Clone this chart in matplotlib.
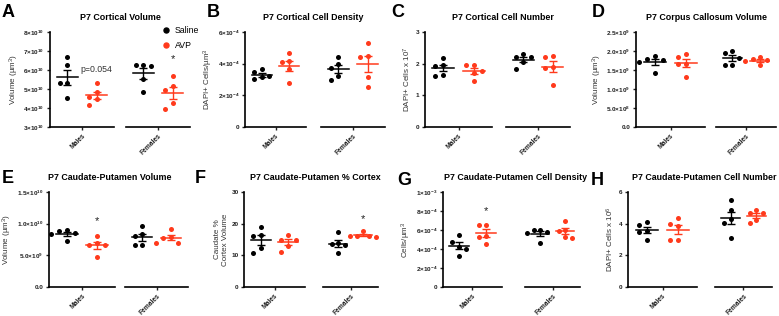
import numpy as np
import matplotlib
matplotlib.use('Agg')
import matplotlib.pyplot as plt
from matplotlib.lines import Line2D

plt.rcParams['font.family'] = ['Liberation Sans', 'DejaVu Sans']
plt.rcParams['mathtext.default'] = 'regular'

W, H = 779, 316
BLACK = '#000000'
RED = '#ff3a1c'

groups = ['Males', 'Females']
conditions = ['Saline', 'AVP']

# each panel: [males saline, males AVP, females saline, females AVP]
cortical_volume = [[6.7, 6.25, 5.3, 5.3, 4.5], [5.3, 4.85, 4.6, 4.45, 4.15],
                   [6.25, 6.25, 6.2, 5.55, 4.85], [5.7, 5.15, 4.95, 4.25, 3.95]]      # x10^10
cortical_density = [[3.65, 3.45, 3.25, 3.15, 3.0], [4.7, 4.15, 4.1, 3.65, 2.75],
                    [4.45, 4.0, 3.75, 3.2, 2.95], [5.3, 4.5, 4.45, 3.15, 2.55]]     # x10^-4
cortical_number = [[2.18, 1.95, 1.93, 1.65, 1.62], [1.96, 1.95, 1.78, 1.72, 1.45],
                   [2.32, 2.22, 2.2, 2.05, 1.83], [2.25, 2.22, 1.9, 1.86, 1.32]]    # x10^7
cc_volume = [[1.88, 1.8, 1.75, 1.7, 1.42], [1.92, 1.85, 1.66, 1.65, 1.32],
             [2.0, 1.96, 1.82, 1.63, 1.62], [1.84, 1.78, 1.75, 1.74, 1.62]]         # x10^9
cp_volume = [[9.0, 8.8, 8.5, 8.3, 7.2], [8.1, 6.9, 6.7, 6.6, 4.7],
             [9.6, 8.3, 8.0, 6.6, 6.6], [9.2, 7.9, 7.7, 7.0, 7.0]]                  # x10^9
cp_pct_cortex = [[18.8, 16.4, 16.0, 12.4, 10.7], [16.4, 15.0, 15.0, 13.0, 11.2],
                 [17.3, 13.8, 13.5, 13.3, 10.7], [17.6, 16.1, 16.0, 16.0, 15.8]]
cp_density = [[5.45, 4.75, 4.25, 4.05, 3.25], [6.55, 6.55, 5.4, 5.3, 4.55],
              [6.0, 6.0, 5.75, 5.7, 4.6], [6.95, 6.05, 5.9, 5.25, 5.2]]            # x10^-4
cp_number = [[4.1, 3.9, 3.55, 3.45, 2.95], [4.35, 3.95, 3.85, 3.0, 3.0],
             [5.5, 4.85, 4.3, 4.05, 3.1], [4.85, 4.7, 4.65, 4.25, 4.05]]           # x10^6

panels = [
    dict(letter='A', title='P7 Cortical Volume', data=cortical_volume,
         ylabel='Volume (µm$^3$)', ylim=(3, 8), ticks=[3, 4, 5, 6, 7, 8],
         ticklabels=['%d×10$^{10}$' % t for t in [3, 4, 5, 6, 7, 8]],
         box=(50, 114, 126, 190), row=0),
    dict(letter='B', title='P7 Cortical Cell Density', data=cortical_density,
         ylabel='DAPI+ Cells/µm$^3$', ylim=(0, 6), ticks=[0, 2, 4, 6],
         ticklabels=['0', '2×10$^{-4}$', '4×10$^{-4}$', '6×10$^{-4}$'],
         box=(245, 306, 321, 385), row=0),
    dict(letter='C', title='P7 Cortical Cell Number', data=cortical_number,
         ylabel='DAPI+ Cells x 10$^7$', ylim=(0, 3), ticks=[0, 1, 2, 3],
         ticklabels=['0', '1', '2', '3'],
         box=(425, 492, 506, 570), row=0),
    dict(letter='D', title='P7 Corpus Callosum Volume', data=cc_volume,
         ylabel='Volume (µm$^3$)', ylim=(0, 2.5), ticks=[0, 0.5, 1, 1.5, 2, 2.5],
         ticklabels=['0.0', '5.0×10$^8$', '1.0×10$^9$', '1.5×10$^9$', '2.0×10$^9$', '2.5×10$^9$'],
         box=(636, 705, 716, 776), row=0),
    dict(letter='E', title='P7 Caudate-Putamen Volume', data=cp_volume,
         ylabel='Volume (µm$^3$)', ylim=(0, 15), ticks=[0, 5, 10, 15],
         ticklabels=['0.0', '5.0×10$^9$', '1.0×10$^{10}$', '1.5×10$^{10}$'],
         box=(49, 115, 125, 188), row=1),
    dict(letter='F', title='P7 Caudate-Putamen % Cortex', data=cp_pct_cortex,
         ylabel='Caudate %\nCortex Volume', ylim=(0, 30), ticks=[0, 10, 20, 30],
         ticklabels=['0', '10', '20', '30'],
         box=(244, 305, 323, 378), row=1),
    dict(letter='G', title='P7 Caudate-Putamen Cell Density', data=cp_density,
         ylabel='Cells/µm$^3$', ylim=(0, 10), ticks=[0, 2, 4, 6, 8, 10],
         ticklabels=['0', '2×10$^{-4}$', '4×10$^{-4}$', '6×10$^{-4}$', '8×10$^{-4}$', '1×10$^{-3}$'],
         box=(443, 502, 525, 580), row=1),
    dict(letter='H', title='P7 Caudate-Putamen Cell Number', data=cp_number,
         ylabel='DAPI+ Cells x 10$^6$', ylim=(0, 6), ticks=[0, 2, 4, 6],
         ticklabels=['0', '2', '4', '6'],
         box=(628, 697, 715, 772), row=1),
]

rows = [(32, 127), (192, 287)]
title_pos = {'A': (120, 17), 'B': (313, 17), 'C': (503, 17), 'D': (707, 17),
             'E': (110, 177), 'F': (315, 177), 'G': (516, 177), 'H': (704, 177)}
letter_pos = {'A': (2, 4), 'B': (207, 4), 'C': (391, 4), 'D': (592, 4),
              'E': (2, 170), 'F': (195, 170), 'G': (397, 172), 'H': (591, 172)}

# annotations: (panel, segment, condition index, y, text)
notes = [('A', 0, 1, 6.0, 'p=0.054'), ('A', 1, 1, 6.55, '*'),
         ('E', 0, 1, 10.4, '*'), ('F', 1, 1, 21.5, '*'), ('G', 0, 1, 8.0, '*')]


def swarm(vals, thresh, step=0.26):
    # simple beeswarm offsets
    placed = []
    offs = []
    for v in vals:
        for cand in [0, -step, step, -2 * step, 2 * step]:
            if all(abs(cand - o) > 0.01 or abs(v - pv) > thresh for o, pv in placed):
                break
        placed.append((cand, v))
        offs.append(cand)
    return np.array(offs)


fig = plt.figure(figsize=(W / 100, H / 100), dpi=100)


def rect(x0, x1, top, bot):
    return [x0 / W, 1 - bot / H, (x1 - x0) / W, (bot - top) / H]


for p in panels:
    x0, x1, x2, x3 = p['box']
    top, bot = rows[p['row']]
    ax_l = fig.add_axes(rect(x0, x1, top, bot))
    ax_r = fig.add_axes(rect(x2, x3, top, bot))
    p['axes'] = (ax_l, ax_r)
    yr = p['ylim'][1] - p['ylim'][0]
    thresh = yr * 7.0 / (bot - top)
    for s, ax in enumerate((ax_l, ax_r)):
        for c in range(2):
            vals = np.array(p['data'][2 * s + c])
            col = BLACK if c == 0 else RED
            xs = c + swarm(vals, thresh)
            ax.scatter(xs, vals, s=13, color=col, linewidths=0, zorder=2)
            m = vals.mean()
            sem = vals.std(ddof=1) / np.sqrt(len(vals))
            ax.plot([c - 0.36, c + 0.36], [m, m], color=col, lw=1.1, zorder=3)
            ax.errorbar(c, m, yerr=sem, color=col, lw=1.0, capsize=3, capthick=1.0, zorder=3)
        ax.set_xlim(-0.6, 1.6)
        ax.set_ylim(*p['ylim'])
        ax.set_xticks([0.5])
        ax.set_xticklabels([groups[s]], rotation=45, ha='right', rotation_mode='anchor',
                           fontsize=4.8, fontweight='bold')
        for side in ['top', 'right']:
            ax.spines[side].set_visible(False)
        ax.spines['bottom'].set_linewidth(1.2)
        ax.spines['left'].set_linewidth(1.2)
        ax.tick_params(axis='both', length=2.5, width=1, pad=1.5, colors='#222222')
        ax.patch.set_alpha(0)
    ax_r.spines['left'].set_visible(False)
    ax_r.set_yticks([])
    ax_l.set_yticks(p['ticks'])
    ax_l.set_yticklabels(p['ticklabels'], fontsize=4.6, fontweight='bold')
    ax_l.set_ylabel(p['ylabel'], fontsize=5.8, color='#333333', labelpad=2, linespacing=1.1)
    tx, ty = title_pos[p['letter']]
    fig.text(tx / W, 1 - ty / H, p['title'], fontsize=6.4, fontweight='bold',
             ha='center', va='center')
    lx, ly = letter_pos[p['letter']]
    fig.text(lx / W, 1 - ly / H, p['letter'], fontsize=13, fontweight='bold',
             ha='left', va='top')

by_letter = {p['letter']: p for p in panels}
for letter, seg, c, y, txt in notes:
    ax = by_letter[letter]['axes'][seg]
    if txt == '*':
        ax.text(c, y, txt, fontsize=8, ha='center', va='center', color='#222222')
    else:
        ax.text(c, y, txt, fontsize=6.3, ha='center', va='center', color='#333333')

handles = [Line2D([], [], marker='o', ls='', color=BLACK, markersize=3.6),
           Line2D([], [], marker='o', ls='', color=RED, markersize=3.6)]
fig.legend(handles, conditions, loc='upper left', bbox_to_anchor=(157 / W, 1 - 22 / H),
           frameon=False, fontsize=6.3, handletextpad=0.5, labelspacing=0.7,
           handlelength=1.0, borderpad=0)

fig.savefig('out.png', dpi=100)
